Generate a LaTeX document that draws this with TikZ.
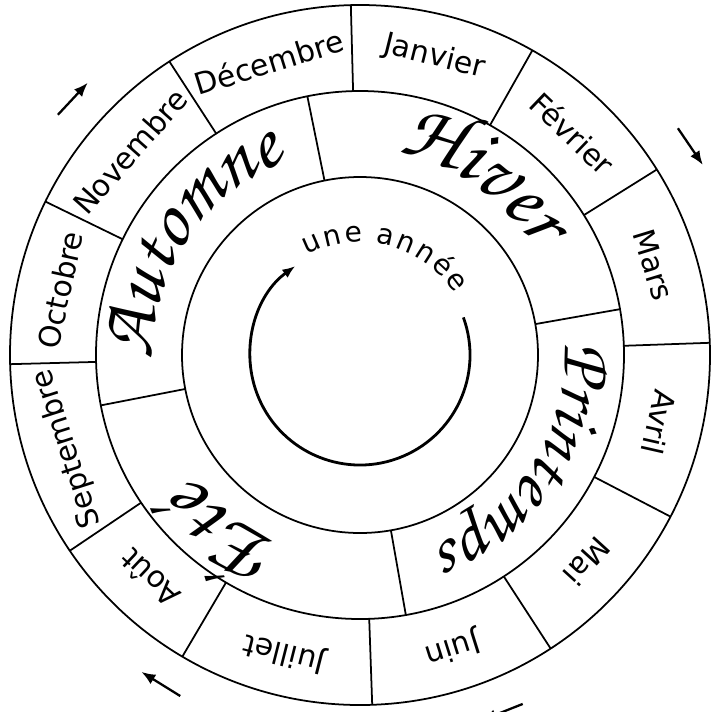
\documentclass[tikz,border=0pt]{standalone}
\usepackage{fontspec}
\setmainfont{DejaVu Sans}
\newfontfamily\chorus{texgyrechorus-mediumitalic.otf}
\usetikzlibrary{arrows.meta,decorations.text}
\tikzset{
  ring/.style={line width=1pt},
  month/.style={font=\fontsize{17}{17}\selectfont, inner sep=0pt},
  turn/.style={line width=1.3pt, -{Latex[length=2.8mm,width=2.2mm]}},
}
\newcommand{\seasonfont}[1]{\chorus\fontsize{#1}{#1}\selectfont}

\begin{document}
\begin{tikzpicture}[scale=1.0]
\useasboundingbox (-7.2,-7.12) rectangle (7.04,7.1);
\draw[ring] (0,0) circle (7) (0,0) circle (5.28) (0,0) circle (3.56);
\foreach \a in {2,32,60.5,91.5,123,154,181.5,214,239.5,272,303,332.5} { \draw[ring] (\a:5.28) -- (\a:7); }
\foreach \a in {101.5,10,-80,191} { \draw[ring] (\a:3.56) -- (\a:5.28); }
\foreach \n/\m/\a in {jan/Janvier/76, fev/Février/46.25, mar/Mars/17, avr/Avril/-12.75, mai/Mai/-42.25, juin/Juin/-72.5,
    juil/Juillet/-104.25, aout/Août/-133.25, sept/Septembre/-162.25, oct/Octobre/167.75, nov/Novembre/138.5, dec/Décembre/107.25} {
  \node[month, rotate=\a-90] (\n) at (\a:6.14) {\m}; }
\path[decorate, decoration={text along path, text align=center, text={|\seasonfont{48}|Hiver}}]
  (101.5:4.1) arc[start angle=101.5, end angle=10, radius=4.1];
\path[decorate, decoration={text along path, text align=center, text={|\seasonfont{41}|Printemps}}]
  (15:4.1) arc[start angle=15, end angle=-80, radius=4.1];
\path[decorate, decoration={text along path, text align=center, text={|\seasonfont{48}|Été}}]
  (-80:4.1) arc[start angle=-80, end angle=-175, radius=4.1];
\path[decorate, decoration={text along path, text align=center, text={|\seasonfont{45}|Automne}}]
  (191:4.15) arc[start angle=191, end angle=101.5, radius=4.15];
\path[decorate, decoration={text along path, text align=fit to path, text={|\fontsize{16}{16}\selectfont|une année}}]
  (118:2.26) arc[start angle=118, end angle=33, radius=2.26];
\draw[line width=1.6pt, -{Latex[length=2.6mm,width=2mm]}] (20:2.2) arc[start angle=20, end angle=-234, radius=2.2];
\draw[turn] (141.5:7.72) -- (135:7.7);
\draw[turn] (35.5:7.81) -- (29:7.84);
\draw[turn] (242.2:7.71) -- (235.4:7.7);
\draw[turn] (-65:7.7) -- (-71.5:7.7);
\end{tikzpicture}
\end{document}
